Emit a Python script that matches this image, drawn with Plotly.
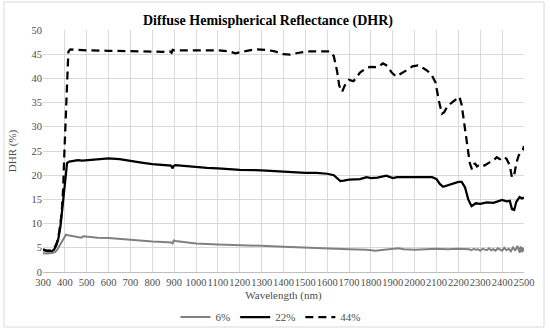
import plotly.graph_objects as go

# ---- data ----
wl_6 = [300, 320, 340, 355, 365, 375, 385, 395, 405, 415, 430, 450, 465, 475, 485, 500, 550, 600, 650, 700,
        750, 800, 850, 885, 892, 898, 905, 950, 1000, 1100, 1200, 1300, 1400, 1500, 1600, 1700, 1780, 1820,
        1860, 1900, 1925, 1950, 2000, 2050, 2100, 2150, 2200, 2250, 2260, 2270, 2280, 2290, 2300, 2310, 2320,
        2330, 2340, 2350, 2360, 2370, 2380, 2390, 2400, 2410, 2420, 2430, 2440, 2450, 2460, 2470, 2480, 2485,
        2490, 2495, 2500]
dhr_6 = [3.9, 3.8, 3.9, 4.1, 4.6, 5.4, 6.4, 7.2, 7.7, 7.6, 7.5, 7.3, 7.2, 7.1, 7.4, 7.3, 7.1, 7.0, 6.8, 6.6,
         6.5, 6.3, 6.2, 6.1, 5.9, 6.5, 6.4, 6.1, 5.9, 5.7, 5.6, 5.4, 5.2, 5.0, 4.8, 4.7, 4.6, 4.4,
         4.6, 4.7, 4.9, 4.7, 4.6, 4.7, 4.8, 4.7, 4.8, 4.7, 4.5, 4.8, 4.6, 4.7, 4.4, 4.8, 4.6,
         4.5, 4.9, 4.5, 4.7, 4.4, 4.9, 4.6, 4.4, 5.0, 4.5, 4.8, 4.3, 5.1, 4.4, 5.4, 4.0, 5.3,
         4.1, 5.0, 4.3]

wl_22 = [300, 320, 340, 350, 360, 370, 380, 390, 400, 405, 410, 420, 440, 460, 480, 500, 550, 600, 650, 700,
         750, 800, 850, 885, 893, 897, 905, 950, 1000, 1050, 1100, 1200, 1300, 1400, 1500, 1550, 1600, 1630,
         1645, 1660, 1675, 1700, 1750, 1780, 1800, 1830, 1870, 1900, 1920, 1950, 2000, 2050, 2080, 2100, 2115,
         2130, 2160, 2200, 2215, 2230, 2245, 2260, 2280, 2300, 2330, 2360, 2400, 2420, 2435, 2445, 2455, 2465,
         2480, 2490, 2500]
dhr_22 = [4.5, 4.3, 4.3, 4.6, 5.4, 6.8, 9.5, 14.0, 19.5, 21.5, 22.5, 22.8, 23.0, 23.1, 23.0, 23.1, 23.3, 23.5, 23.3, 22.9,
          22.6, 22.3, 22.1, 22.0, 21.4, 21.9, 22.1, 21.9, 21.7, 21.5, 21.4, 21.1, 21.0, 20.7, 20.5, 20.5, 20.3, 20.0,
          19.4, 18.8, 18.9, 19.1, 19.2, 19.6, 19.4, 19.5, 19.9, 19.4, 19.6, 19.6, 19.7, 19.7, 19.6, 19.2, 18.2,
          17.6, 18.0, 18.6, 18.6, 17.5, 15.0, 13.6, 14.2, 14.1, 14.4, 14.3, 14.9, 14.6, 14.7, 13.0, 12.8, 14.5,
          15.5, 15.2, 15.4]

wl_44 = [300, 320, 340, 355, 365, 375, 385, 392, 398, 404, 410, 416, 425, 450, 500, 600, 700, 800, 850, 880,
         888, 893, 900, 950, 1000, 1100, 1150, 1180, 1220, 1270, 1320, 1360, 1400, 1430, 1470, 1520, 1580, 1610,
         1630, 1645, 1655, 1668, 1680, 1700, 1720, 1750, 1780, 1800, 1830, 1855, 1875, 1895, 1915, 1935, 1960,
         1990, 2015, 2040, 2060, 2080, 2095, 2110, 2125, 2135, 2150, 2170, 2190, 2205, 2215, 2225, 2240, 2252,
         2262, 2275, 2285, 2300, 2320, 2340, 2360, 2375, 2390, 2405, 2420, 2435, 2445, 2455, 2465, 2475, 2485,
         2495, 2500]
dhr_44 = [4.7, 4.4, 4.5, 5.2, 6.2, 8.5, 12.0, 17.0, 25.0, 33.0, 41.0, 45.5, 46.0, 45.9, 45.8, 45.7, 45.6, 45.5, 45.5, 45.6,
          45.3, 45.9, 45.8, 45.8, 45.8, 45.8, 45.6, 45.2, 45.6, 46.0, 45.9, 45.6, 45.0, 44.9, 45.3, 45.6, 45.6, 45.6,
          44.6, 41.5, 38.5, 37.2, 38.5, 39.7, 39.4, 41.2, 42.2, 42.4, 42.3, 43.1, 42.6, 41.2, 40.4, 40.9, 41.6,
          42.5, 42.7, 42.1, 41.5, 40.5, 39.2, 35.5, 32.7, 33.0, 34.3, 35.0, 35.8, 36.2, 34.5, 31.0, 26.0, 22.5,
          21.2, 22.5, 21.8, 22.3, 22.0, 22.6, 23.0, 23.7, 23.3, 23.8, 23.4, 22.0, 19.5, 20.0, 22.5, 24.0, 24.8,
          25.3, 26.0]

x_ticks = list(range(300, 2501, 100))
y_ticks = list(range(0, 51, 5))

FONT = "Liberation Serif"
TICKC = "#4d4d4d"

fig = go.Figure()
fig.add_trace(go.Scatter(x=wl_6, y=dhr_6, mode="lines", name="6%",
                         line=dict(color="#808080", width=2)))
fig.add_trace(go.Scatter(x=wl_22, y=dhr_22, mode="lines", name="22%",
                         line=dict(color="#000000", width=2.25)))
fig.add_trace(go.Scatter(x=wl_44, y=dhr_44, mode="lines", name="44%",
                         line=dict(color="#000000", width=2.25, dash="8px,5px")))

L, R, T, B = 43, 26, 30, 60
W, H = 550, 332
pw, ph = W - L - R, H - T - B

def px_x(x):
    return (x - L) / pw

def px_y(y):
    return (H - B - y) / ph

fig.update_layout(
    width=W, height=H,
    margin=dict(l=L, r=R, t=T, b=B, autoexpand=False),
    paper_bgcolor="white", plot_bgcolor="white",
    font=dict(family=FONT, color=TICKC, size=11),
    showlegend=True,
    legend=dict(orientation="h", xref="container", yref="container",
                x=271 / W, xanchor="center", y=1 - 317 / H, yanchor="middle",
                font=dict(family=FONT, size=11, color=TICKC), itemwidth=30,
                bgcolor="rgba(0,0,0,0)", tracegroupgap=0),
    xaxis=dict(range=[300, 2500], tickmode="array", tickvals=x_ticks, ticktext=[str(v) for v in x_ticks],
               tickangle=0, showgrid=True, gridcolor="#d9d9d9", gridwidth=1, automargin=False,
               showline=True, linecolor="#bfbfbf", linewidth=1, zeroline=False,
               ticks="", tickfont=dict(family=FONT, size=10.5, color=TICKC),
               title=dict(text="Wavelength (nm)", font=dict(family=FONT, size=11, color=TICKC), standoff=12)),
    yaxis=dict(range=[0, 50], tickmode="array", tickvals=y_ticks, showgrid=True, gridcolor="#d9d9d9",
               gridwidth=1, zeroline=False, showline=False, ticks="", automargin=False,
               tickfont=dict(family=FONT, size=10.5, color=TICKC),
               title=dict(text="DHR (%)", font=dict(family=FONT, size=11, color=TICKC), standoff=12)),
    title=dict(text="<b>Diffuse Hemispherical Reflectance (DHR)</b>", x=268 / W, xanchor="center",
               xref="container", yref="container",
               y=1 - 20 / H, yanchor="middle", automargin=False,
               font=dict(family=FONT, size=14, color="#000000")),
)

fig.add_shape(type="rect", xref="paper", yref="paper",
              x0=px_x(4), x1=px_x(544), y0=px_y(327), y1=px_y(2),
              line=dict(color="#d9d9d9", width=1), fillcolor="rgba(0,0,0,0)", layer="below")

fig.write_html("out.html", config={"displayModeBar": False},
               post_script="document.body.style.margin='0';document.body.style.overflow='hidden';")
